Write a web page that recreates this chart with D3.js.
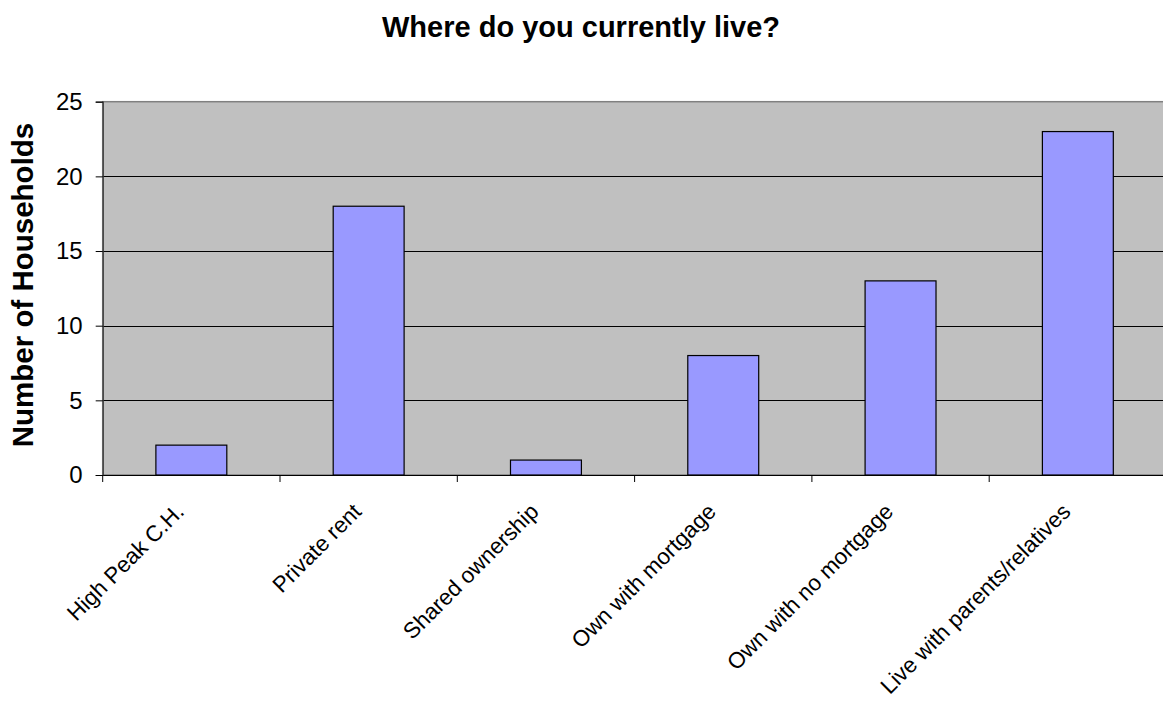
<!DOCTYPE html>
<html>
<head>
<meta charset="utf-8">
<script src="https://cdn.jsdelivr.net/npm/d3@7"></script>
<style>
  html, body { margin: 0; padding: 0; background: #fff; }
  svg { display: block; }
  text { font-family: Arial, "Liberation Sans", sans-serif; fill: #000; }
</style>
</head>
<body>
<svg id="chart" width="1163" height="702"></svg>
<script>
const categories = ["High Peak C.H.", "Private rent", "Shared ownership", "Own with mortgage", "Own with no mortgage", "Live with parents/relatives"];
const households = [2, 18, 1, 8, 13, 23];
const yTicks = [0, 5, 10, 15, 20, 25];
const chartTitle = "Where do you currently live?";
const yTitle = "Number of Households";

const svg = d3.select("#chart");
const plot = { left: 102.7, right: 1166.5, top: 101.7, bottom: 475 };

const x = d3.scaleBand().domain(categories).range([plot.left, plot.right])
  .paddingInner(0.6).paddingOuter(0.3);
const y = d3.scaleLinear().domain([0, 25]).range([plot.bottom, plot.top]);

// plot background
svg.append("rect")
  .attr("x", plot.left).attr("y", plot.top)
  .attr("width", plot.right - plot.left).attr("height", plot.bottom - plot.top)
  .attr("fill", "#C0C0C0").attr("stroke", "#808080").attr("stroke-width", 1.5);

// gridlines
svg.append("g").selectAll("line").data(yTicks.filter(d => d > 0 && d < 25)).join("line")
  .attr("x1", plot.left).attr("x2", plot.right)
  .attr("y1", d => Math.round(y(d)) + 0.5).attr("y2", d => Math.round(y(d)) + 0.5)
  .attr("stroke", "#000").attr("stroke-width", 1);

// bars
svg.append("g").selectAll("rect").data(households).join("rect")
  .attr("x", (d, i) => x(categories[i]))
  .attr("y", d => y(d))
  .attr("width", x.bandwidth())
  .attr("height", d => y(0) - y(d))
  .attr("fill", "#9999FF").attr("stroke", "#000").attr("stroke-width", 1.2);

// y axis
const yAxis = svg.append("g")
  .attr("transform", `translate(${plot.left},0)`)
  .call(d3.axisLeft(y).tickValues(yTicks).tickSize(7).tickPadding(13));
yAxis.select(".domain").attr("stroke", "#333").attr("stroke-width", 1.2);
yAxis.selectAll(".tick line").attr("stroke", "#000");
yAxis.selectAll(".tick text").attr("font-size", 24).attr("font-family", "Arial, 'Liberation Sans', sans-serif").attr("fill", "#000");

// x axis line
const xAxis = svg.append("g")
  .attr("transform", `translate(0,${plot.bottom})`)
  .call(d3.axisBottom(x).tickSize(0).tickFormat(""));
xAxis.select(".domain").attr("stroke", "#000").attr("stroke-width", 1.2);

// category boundary ticks
const boundaries = categories.map(c => x(c) - x.step() * x.paddingOuter()).concat([plot.right]);
svg.append("g").selectAll("line").data(boundaries).join("line")
  .attr("x1", d => d).attr("x2", d => d)
  .attr("y1", plot.bottom).attr("y2", plot.bottom + 7)
  .attr("stroke", "#000").attr("stroke-width", 1);

// category labels
svg.append("g").selectAll("text").data(categories).join("text")
  .attr("transform", d => `translate(${x(d) + x.bandwidth() / 2 - 6},${513}) rotate(-45)`)
  .attr("text-anchor", "end")
  .attr("font-size", 22.4)
  .text(d => d);

// title
svg.append("text")
  .attr("x", 581).attr("y", 36.5)
  .attr("text-anchor", "middle")
  .attr("font-size", 29).attr("font-weight", "bold")
  .text(chartTitle);

// y title
svg.append("text")
  .attr("transform", `translate(33,${(123 + 447) / 2}) rotate(-90)`)
  .attr("text-anchor", "middle")
  .attr("font-size", 29.5).attr("font-weight", "bold")
  .text(yTitle);
</script>
</body>
</html>
